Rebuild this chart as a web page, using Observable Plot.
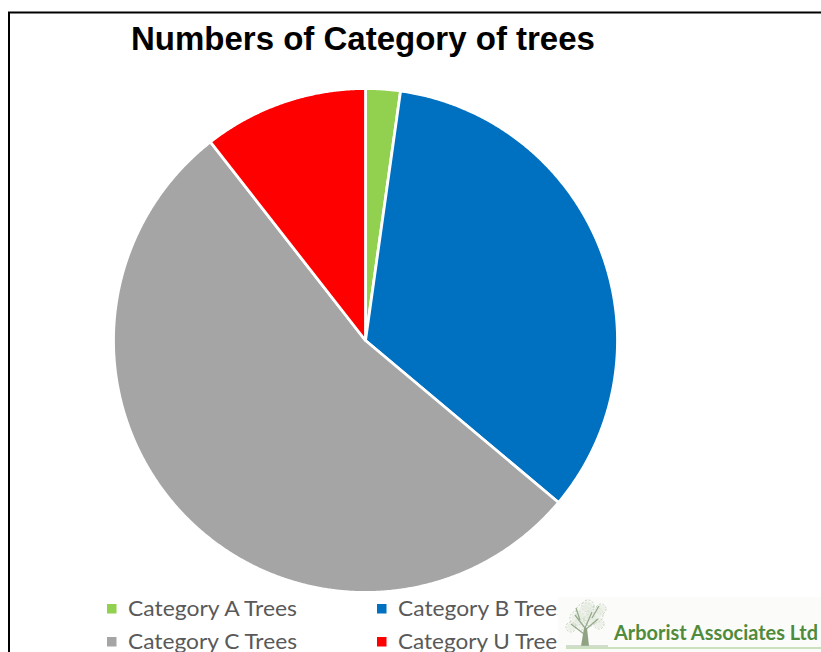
<!DOCTYPE html>
<html>
<head>
<meta charset="utf-8">
<script src="https://cdn.jsdelivr.net/npm/d3@7"></script>
<script src="https://cdn.jsdelivr.net/npm/@observablehq/plot@0.6"></script>
<style>
  html, body { margin: 0; padding: 0; background: #fff; }
  #wrap { position: relative; width: 821px; height: 652px; overflow: hidden; background: #fff; }
  #wrap > svg, #wrap > div { position: absolute; left: 0; top: 0; }
</style>
</head>
<body>
<div id="wrap">
  <div id="pie"></div>
  <svg id="over" width="821" height="652" xmlns="http://www.w3.org/2000/svg"></svg>
</div>
<script>
// ---- data ----
const categories = ["Category A Trees", "Category B Trees", "Category C Trees", "Category U Trees"];
const counts = [4, 61, 96, 19];
const colors = ["#92D050", "#0070C0", "#A5A5A5", "#FF0000"];
const title = "Numbers of Category of trees";
const logoText = "Arborist Associates Ltd";

// ---- build wedge outlines from d3.pie angles ----
const arcs = d3.pie().sort(null).value(d => d.v)(categories.map((c, i) => ({c, v: counts[i]})));
const pts = [];
for (const a of arcs) {
  const n = Math.max(4, Math.ceil((a.endAngle - a.startAngle) / 0.005));
  pts.push({cat: a.data.c, x: 0, y: 0});
  for (let k = 0; k <= n; k++) {
    const t = a.startAngle + (a.endAngle - a.startAngle) * k / n;
    pts.push({cat: a.data.c, x: Math.sin(t), y: Math.cos(t)});
  }
  pts.push({cat: a.data.c, x: 0, y: 0});
}

const W = 821, H = 652, cx = 365, cy = 340, R = 252;
const chart = Plot.plot({
  width: W, height: H, margin: 0,
  x: {domain: [-cx / R, (W - cx) / R], range: [0, W], axis: null},
  y: {domain: [-(H - cy) / R, cy / R], range: [H, 0], axis: null},
  color: {domain: categories, range: colors},
  marks: [
    Plot.line(pts, {x: "x", y: "y", z: "cat", fill: "cat", stroke: "white",
      strokeWidth: 2.8, strokeLinejoin: "round", curve: "linear"})
  ]
});
document.getElementById("pie").appendChild(chart);

// ---- overlay: frame, title, legend, logo ----
const svg = d3.select("#over");
svg.append("path").attr("d", "M9,652 V12.5 H821").attr("fill", "none")
  .attr("stroke", "#000").attr("stroke-width", 2);

svg.append("text").attr("x", 131).attr("y", 50)
  .attr("font-family", "Liberation Sans, Arial, sans-serif").attr("font-weight", "bold")
  .attr("font-size", 33).attr("fill", "#000").text(title);

const legPos = [[107, 616], [377, 616], [107, 649], [377, 649]];
categories.forEach((c, i) => {
  const [lx, ly] = legPos[i];
  svg.append("rect").attr("x", lx).attr("y", ly - 12).attr("width", 9.5).attr("height", 9.5)
    .attr("fill", colors[i]);
  svg.append("text").attr("x", lx + 21).attr("y", ly)
    .attr("font-family", "Lato, sans-serif").attr("font-size", 21.5)
    .attr("fill", "#595959").attr("textLength", 169).attr("lengthAdjust", "spacingAndGlyphs")
    .text(c);
});

// logo block
const lg = svg.append("g");
lg.append("rect").attr("x", 558).attr("y", 597).attr("width", 263).attr("height", 55).attr("fill", "#fbfbfa");
lg.append("line").attr("x1", 566).attr("x2", 821).attr("y1", 648).attr("y2", 648)
  .attr("stroke", "#b9d9a8").attr("stroke-width", 1.5);
// tree icon
const canopy = [[585,612,9],[577,618,7],[595,615,8],[588,606,6],[601,609,5],[571,627,5],[599,624,5],[581,624,6],[590,620,6]];
canopy.forEach(([x, y, r]) => lg.append("circle").attr("cx", x).attr("cy", y).attr("r", r)
  .attr("fill", "none").attr("stroke", "#c3d2bc").attr("stroke-width", 1).attr("stroke-dasharray", "2 1.5"));
canopy.forEach(([x, y, r]) => lg.append("circle").attr("cx", x).attr("cy", y).attr("r", r * 0.8)
  .attr("fill", "#dfe8da").attr("opacity", 0.5));
lg.append("path").attr("d", "M584,645 L585,628 L575,615 M585,628 L592,612 M585,630 L598,619 M584,634 L571,624 M580,620 L576,608 M592,618 L599,606")
  .attr("stroke", "#97ab8d").attr("stroke-width", 1.3).attr("fill", "none");
lg.append("path").attr("d", "M581,646 L584,628 L587,628 L589,646 Z").attr("fill", "#8fa383");
lg.append("line").attr("x1", 566).attr("x2", 608).attr("y1", 646).attr("y2", 646)
  .attr("stroke", "#a9bca0").attr("stroke-width", 1);
lg.append("text").attr("x", 614).attr("y", 640)
  .attr("font-family", "Lato, sans-serif").attr("font-weight", "bold").attr("font-size", 20)
  .attr("fill", "#4f8b3b").attr("textLength", 204).attr("lengthAdjust", "spacingAndGlyphs")
  .text(logoText);
</script>
</body>
</html>
